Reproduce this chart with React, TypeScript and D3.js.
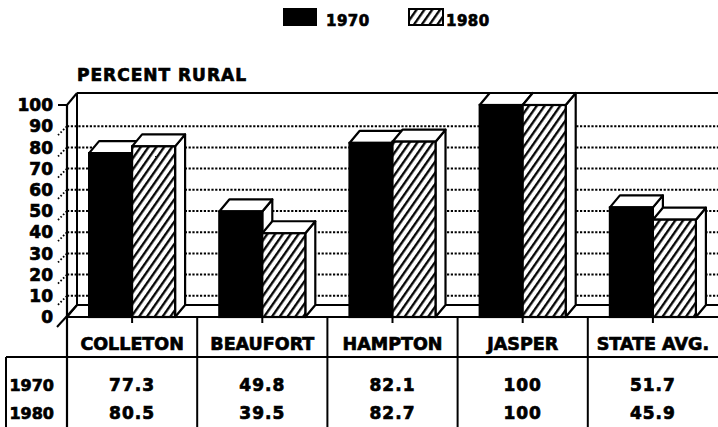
import React from "react";
import * as d3 from "d3";

const categories = ["COLLETON", "BEAUFORT", "HAMPTON", "JASPER", "STATE AVG."];
const seriesNames = ["1970", "1980"];
const values1970 = [77.3, 49.8, 82.1, 100, 51.7];
const values1980 = [80.5, 39.5, 82.7, 100, 45.9];
const tableLabels1970 = ["77.3", "49.8", "82.1", "100", "51.7"];
const tableLabels1980 = ["80.5", "39.5", "82.7", "100", "45.9"];
const yTicks = [0, 10, 20, 30, 40, 50, 60, 70, 80, 90, 100];
const title = "PERCENT RURAL";

const W = 718;
const H = 427;
const FONT = "'DejaVu Sans', sans-serif";
const textStyle = { fontFamily: FONT, fontWeight: "bold" as const, fill: "#000", stroke: "#000", strokeWidth: 0.7 };

export default function App() {
  const left = 67;
  const right = 718;
  const dx = 10;
  const dy = 12;
  const y = d3.scaleLinear().domain([0, 100]).range([317, 105]);
  const x0 = d3.scaleBand<string>().domain(categories).range([left, right]).padding(0);
  const barW = 43;
  const x1 = d3.scaleBand<string>().domain(seriesNames).range([-barW, barW]).padding(0);
  const floorY = y(0);
  const tableRow = 357;
  const series = [values1970, values1980];

  const bars: JSX.Element[] = [];
  categories.forEach((c, ci) => {
    const cx = (x0(c) as number) + x0.bandwidth() / 2;
    seriesNames.forEach((s, si) => {
      const v = series[si][ci];
      const xa = cx + (x1(s) as number);
      const xb = xa + x1.bandwidth();
      const yt = y(v);
      const fill = si === 0 ? "#000" : "url(#hatch)";
      bars.push(
        <g key={c + s}>
          <polygon
            points={`${xb},${yt} ${xb + dx},${yt - dy} ${xb + dx},${floorY - dy} ${xb},${floorY}`}
            fill="#fff"
            stroke="#000"
            strokeWidth={2.2}
            strokeLinejoin="round"
          />
          <polygon
            points={`${xa},${yt} ${xa + dx},${yt - dy} ${xb + dx},${yt - dy} ${xb},${yt}`}
            fill="#fff"
            stroke="#000"
            strokeWidth={2.2}
            strokeLinejoin="round"
          />
          <rect x={xa} y={yt} width={xb - xa} height={floorY - yt} fill={fill} stroke="#000" strokeWidth={2.2} />
        </g>
      );
    });
  });

  const boundaries = categories.map((c) => x0(c) as number);

  return (
    <div style={{ position: "absolute", left: 0, top: 0 }}>
      <svg width={W} height={H} style={{ display: "block", background: "#fff" }}>
        <defs>
          <pattern id="hatch" patternUnits="userSpaceOnUse" width={6.4} height={6.4} patternTransform="rotate(35)">
            <rect width={6.4} height={6.4} fill="#fff" />
            <line x1={1.2} y1={0} x2={1.2} y2={6.4} stroke="#000" strokeWidth={2.3} />
          </pattern>
        </defs>

        {/* legend */}
        <rect x={283} y={8} width={34} height={18} fill="#000" />
        <text x={326} y={26} fontSize={15} letterSpacing={0.5} {...textStyle}>
          {seriesNames[0]}
        </text>
        <rect x={409} y={9} width={34} height={16} fill="url(#hatch)" stroke="#000" strokeWidth={2} />
        <text x={446} y={26} fontSize={15} letterSpacing={0.5} {...textStyle}>
          {seriesNames[1]}
        </text>

        {/* title */}
        <text x={77} y={81} fontSize={17} letterSpacing={1} {...textStyle}>
          {title}
        </text>

        {/* back wall */}
        <line x1={left + dx} y1={y(100) - dy} x2={right} y2={y(100) - dy} stroke="#000" strokeWidth={2.2} />
        <line x1={left + dx} y1={y(100) - dy} x2={left + dx} y2={floorY - dy} stroke="#000" strokeWidth={2} />
        <line x1={left} y1={y(100)} x2={left + dx} y2={y(100) - dy} stroke="#000" strokeWidth={2} />

        {/* gridlines */}
        {yTicks
          .filter((t) => t > 0 && t < 100)
          .map((t) => (
            <line
              key={"g" + t}
              x1={left}
              x2={right}
              y1={y(t)}
              y2={y(t)}
              stroke="#000"
              strokeWidth={2}
              strokeDasharray="2.2,1.6"
            />
          ))}

        {/* floor */}
        <polygon
          points={`${left},${floorY} ${left + dx},${floorY - dy} ${right + 2},${floorY - dy} ${right + 2},${floorY}`}
          fill="#fff"
          stroke="#000"
          strokeWidth={2}
        />

        {bars}

        {/* front axis */}
        <line x1={left} y1={y(100)} x2={left} y2={H} stroke="#000" strokeWidth={2.2} />
        {yTicks.map((t) => {
          const yy = y(t);
          let tick;
          if (t === 100) tick = <line x1={58} y1={yy} x2={left} y2={yy} stroke="#000" strokeWidth={2} />;
          else if (t === 0)
            tick = <line x1={57} y1={yy + 10} x2={left + dx} y2={yy - dy} stroke="#000" strokeWidth={2} />;
          else
            tick = (
              <line x1={58} y1={yy + 9} x2={left} y2={yy} stroke="#000" strokeWidth={1.8} strokeDasharray="1.6,2" />
            );
          return (
            <g key={"t" + t}>
              {tick}
              <text x={53} y={yy} dy="0.36em" textAnchor="end" fontSize={17} {...textStyle}>
                {t}
              </text>
            </g>
          );
        })}

        {/* table */}
        <line x1={left} y1={floorY} x2={right} y2={floorY} stroke="#000" strokeWidth={2.2} />
        {boundaries.slice(1).map((b, i) => (
          <line key={"b" + i} x1={b} x2={b} y1={floorY} y2={H} stroke="#000" strokeWidth={2} />
        ))}
        {categories.map((c) => {
          const cx = (x0(c) as number) + x0.bandwidth() / 2;
          return <line key={"ct" + c} x1={cx} x2={cx} y1={floorY} y2={floorY + 6} stroke="#000" strokeWidth={2} />;
        })}
        <line x1={6} y1={tableRow} x2={right} y2={tableRow} stroke="#000" strokeWidth={2} />
        <line x1={6} y1={tableRow} x2={6} y2={H} stroke="#000" strokeWidth={2} />
        {categories.map((c) => {
          const cx = (x0(c) as number) + x0.bandwidth() / 2;
          return (
            <text key={"cl" + c} x={cx} y={350} textAnchor="middle" fontSize={17.5} {...textStyle}>
              {c}
            </text>
          );
        })}
        {[tableLabels1970, tableLabels1980].map((row, ri) => (
          <g key={"row" + ri}>
            <text x={54} y={391 + ri * 28} textAnchor="end" fontSize={16} {...textStyle}>
              {seriesNames[ri]}
            </text>
            {row.map((v, ci) => {
              const cx = (x0(categories[ci]) as number) + x0.bandwidth() / 2;
              return (
                <text key={"v" + ri + ci} x={cx} y={391 + ri * 28} textAnchor="middle" fontSize={17} letterSpacing={1} {...textStyle}>
                  {v}
                </text>
              );
            })}
          </g>
        ))}
      </svg>
    </div>
  );
}
